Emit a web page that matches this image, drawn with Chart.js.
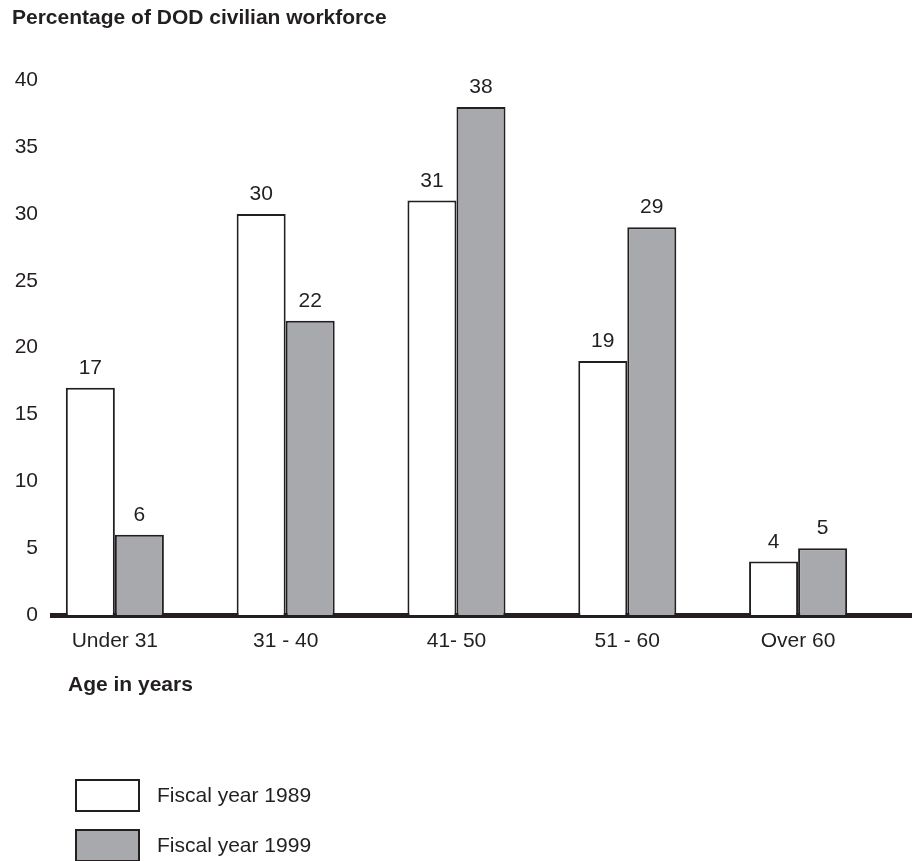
<!DOCTYPE html>
<html>
<head>
<meta charset="utf-8">
<script src="https://cdn.jsdelivr.net/npm/chart.js@4"></script>
<style>
  html, body { margin: 0; padding: 0; background: #fff; }
</style>
</head>
<body>
<canvas id="ageChart" width="913" height="861"></canvas>
<script>
// Chart data
const categories = ['Under 31', '31 - 40', '41- 50', '51 - 60', 'Over 60'];
const fy1989 = [17, 30, 31, 19, 4];
const fy1999 = [6, 22, 38, 29, 5];
const seriesLabels = ['Fiscal year 1989', 'Fiscal year 1999'];

const ink = '#231f20';
const greyFill = '#a7a9ac';
const fontFamily = "'Liberation Sans', Arial, sans-serif";

Chart.defaults.font.family = fontFamily;
Chart.defaults.color = ink;

function toPoints(values) {
    return values.map((v, i) => ({ x: i, y: v }));
}

// Value labels above each bar
const valueLabels = {
    id: 'valueLabels',
    afterDatasetsDraw(chart) {
        const ctx = chart.ctx;
        ctx.save();
        ctx.font = '21px ' + fontFamily;
        ctx.fillStyle = ink;
        ctx.textAlign = 'center';
        ctx.textBaseline = 'alphabetic';
        chart.data.datasets.forEach((ds, d) => {
            chart.getDatasetMeta(d).data.forEach((bar, i) => {
                ctx.fillText(String(ds.data[i].y), bar.x, bar.y - 14);
            });
        });
        ctx.restore();
    }
};

// Axis title and legend under the plot
const bottomNotes = {
    id: 'bottomNotes',
    afterDraw(chart) {
        const ctx = chart.ctx;
        const area = chart.chartArea;
        ctx.save();
        ctx.textBaseline = 'middle';
        ctx.textAlign = 'left';
        ctx.fillStyle = ink;
        ctx.font = 'bold 21px ' + fontFamily;
        ctx.fillText('Age in years', area.left + 16, area.bottom + 70);

        ctx.font = '21px ' + fontFamily;
        chart.data.datasets.forEach((ds, d) => {
            const top = area.bottom + 164 + d * 50;
            const left = area.left + 23;
            ctx.fillStyle = ds.backgroundColor;
            ctx.fillRect(left, top, 65, 33);
            ctx.lineWidth = 2;
            ctx.strokeStyle = ink;
            ctx.strokeRect(left + 1, top + 1, 63, 31);
            ctx.fillStyle = ink;
            ctx.fillText(ds.label, left + 82, top + 17);
        });
        ctx.restore();
    }
};

const conf = {
    type: 'bar',
    data: {
        datasets: [{
            label: seriesLabels[0],
            data: toPoints(fy1989),
            backgroundColor: '#ffffff',
            borderColor: ink,
            borderWidth: 2,
            borderSkipped: 'bottom',
            categoryPercentage: 0.574,
            barPercentage: 1
        }, {
            label: seriesLabels[1],
            data: toPoints(fy1999),
            backgroundColor: greyFill,
            borderColor: ink,
            borderWidth: 2,
            borderSkipped: 'bottom',
            categoryPercentage: 0.574,
            barPercentage: 1
        }]
    },
    options: {
        responsive: false,
        animation: false,
        layout: {
            padding: { left: 12, right: 2, top: 0, bottom: 206 }
        },
        plugins: {
            legend: { display: false },
            tooltip: { enabled: false },
            title: {
                display: true,
                text: 'Percentage of DOD civilian workforce',
                align: 'start',
                color: ink,
                font: { size: 21, weight: 'bold' },
                padding: { top: 6, bottom: 49 }
            }
        },
        scales: {
            x: {
                type: 'linear',
                offset: false,
                min: -0.368,
                max: 4.661,
                z: 1,
                grid: { display: false, drawTicks: false, offset: false },
                border: { display: true, width: 5, color: ink },
                afterBuildTicks(scale) {
                    scale.ticks = categories.map((c, i) => ({ value: i }));
                },
                afterFit(scale) {
                    scale.height = 40;
                },
                ticks: {
                    autoSkip: false,
                    maxRotation: 0,
                    padding: 14,
                    color: ink,
                    font: { size: 21 },
                    callback: (v) => categories[v]
                }
            },
            y: {
                min: 0,
                max: 40,
                grid: { display: false, drawTicks: false },
                border: { display: false },
                afterFit(scale) {
                    scale.width = 40;
                },
                ticks: {
                    stepSize: 5,
                    padding: 14,
                    color: ink,
                    font: { size: 21 }
                }
            }
        }
    },
    plugins: [valueLabels, bottomNotes]
};

const ageChart = new Chart(document.getElementById('ageChart'), conf);
</script>
</body>
</html>
